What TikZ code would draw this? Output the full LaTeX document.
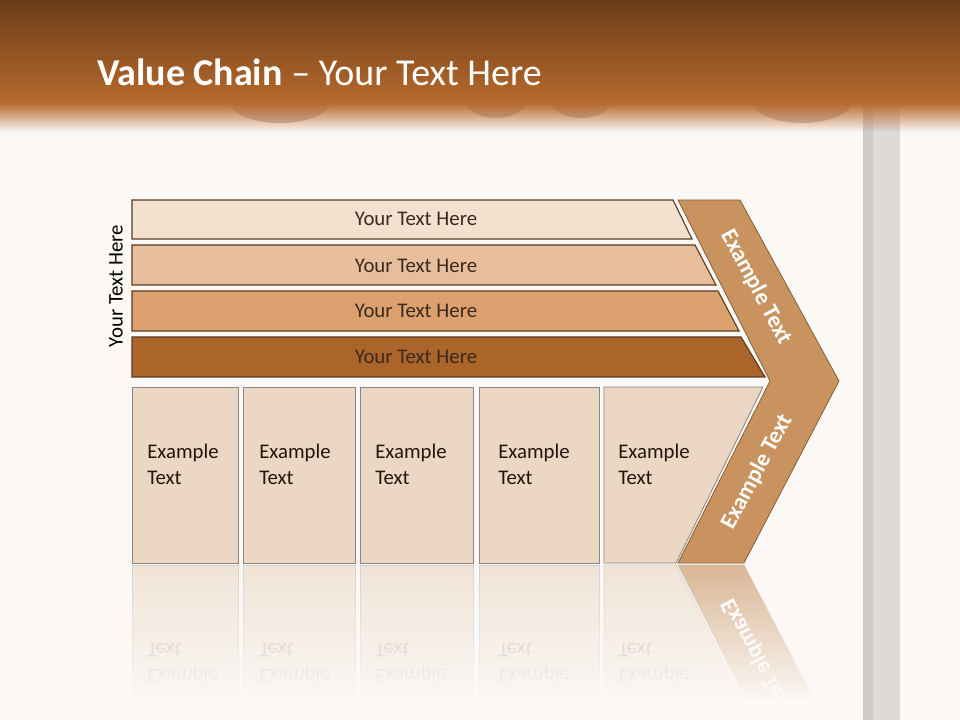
\documentclass[tikz,border=0pt]{standalone}
\usepackage{fontspec}
\setmainfont{Carlito}
\usetikzlibrary{fadings}
\definecolor{pagebg}{HTML}{FBF8F5}
\definecolor{headtop}{HTML}{6B3D17}
\definecolor{headbot}{HTML}{B86A2D}
\definecolor{bumpgray}{HTML}{C9BEB6}
\definecolor{pillarlight}{HTML}{DEDAD7}
\definecolor{pillardark}{HTML}{CFCBC9}
\definecolor{bandone}{HTML}{F3E1D0}
\definecolor{bandtwo}{HTML}{E8BD9C}
\definecolor{bandthree}{HTML}{DDA06F}
\definecolor{bandfour}{HTML}{AB6429}
\definecolor{bandline}{HTML}{5C3A1E}
\definecolor{bandink}{HTML}{3A2A1E}
\definecolor{chevfill}{HTML}{C8935F}
\definecolor{chevline}{HTML}{8C6239}
\definecolor{cellfill}{HTML}{EBD7C3}
\definecolor{cellline}{HTML}{8F8680}
\definecolor{cellink}{HTML}{22170F}
\tikzfading[name=fadein, top color=transparent!0, bottom color=transparent!100]
\tikzfading[name=fadeout, top color=transparent!100, bottom color=transparent!0]

\begin{document}
\begin{tikzpicture}[x = 0.025cm, y = -0.025cm,
	band/.style = {draw = bandline, line width = 0.8pt},
	cell/.style = {draw = cellline, fill = cellfill, line width = 0.6pt},
	mirrorcell/.style = {draw = cellline!35!pagebg, fill = cellfill!60!pagebg, line width = 0.6pt},
	bandtext/.style = {text = bandink, font = \fontsize{14.8}{18}\selectfont},
	celltext/.style = {anchor = north west, align = left, inner sep = 0pt, font = \fontsize{14.8}{18.5}\selectfont},
	chevtext/.style = {text = white, font = \bfseries\fontsize{16.5}{19}\selectfont}]
	\useasboundingbox (0,0) rectangle (960,720);
	\fill [pagebg] (0,0) rectangle (960,720);
	\fill [bumpgray] (280,101) ellipse (51 and 22);
	\fill [bumpgray] (496,100) ellipse (31 and 18);
	\fill [bumpgray] (581,100) ellipse (31 and 18);
	\fill [bumpgray] (802,101) ellipse (50 and 22);
	\fill [pillarlight] (863,106) rectangle (900,720);
	\fill [pillardark] (863,106) rectangle (873,720);
	\shade [top color = headtop, bottom color = headbot] (0,0) rectangle (960,104);
	\fill [headbot, path fading = fadein] (0,103) rectangle (960,132);
	\node (title) [anchor = base west, inner sep = 0pt, text = white, font = \fontsize{27}{31}\selectfont] at (97,86) {\textbf{Value Chain} -- Your Text Here};

	\begin{scope}[shift = {(0,1128)}, yscale = -1, transform shape]
		\draw [mirrorcell] (132,387) rectangle (238,563);
		\draw [mirrorcell] (243,387) rectangle (355,563);
		\draw [mirrorcell] (360,387) rectangle (473,563);
		\draw [mirrorcell] (479,387) rectangle (599,563);
		\draw [mirrorcell] (604,387) -- (763,387) -- (676,563) -- (604,563) -- cycle;
		\draw [draw = chevline!40!pagebg, fill = chevfill!65!pagebg] (678,563) -- (744,563) -- (839,381) -- (770,381) -- cycle;
		\node (r1) [celltext, text = cellink!30!pagebg] at (147,444) {Example\\Text};
		\node (r2) [celltext, text = cellink!30!pagebg] at (259,444) {Example\\Text};
		\node (r3) [celltext, text = cellink!30!pagebg] at (375,444) {Example\\Text};
		\node (r4) [celltext, text = cellink!30!pagebg] at (498,444) {Example\\Text};
		\node (r5) [celltext, text = cellink!30!pagebg] at (618,444) {Example\\Text};
		\node (rb) [chevtext, rotate = 62] at (757,472) {Example Text};
	\end{scope}
	\fill [pagebg, path fading = fadeout] (120,564) rectangle (852,700);
	\fill [pagebg] (120,699) rectangle (852,720);

	\draw [band, fill = bandone] (132,200) -- (673,200) -- (692,239) -- (132,239) -- cycle;
	\draw [band, fill = bandtwo] (132,245) -- (695,245) -- (716,285) -- (132,285) -- cycle;
	\draw [band, fill = bandthree] (132,291) -- (718,291) -- (739,331) -- (132,331) -- cycle;
	\draw [band, fill = bandfour] (132,337) -- (741,337) -- (765,377) -- (132,377) -- cycle;
	\node (b1) [bandtext] at (416,219) {Your Text Here};
	\node (b2) [bandtext] at (416,266) {Your Text Here};
	\node (b3) [bandtext] at (416,311) {Your Text Here};
	\node (b4) [bandtext] at (416,357) {Your Text Here};
	\node (side) [text = black, rotate = 90, font = \fontsize{14.8}{18}\selectfont] at (116,286) {Your Text Here};

	\draw [draw = chevline, fill = chevfill, line width = 0.6pt] (678,200) -- (740,200) -- (839,381) -- (744,563) -- (678,563) -- (770,381) -- cycle;
	\node (ct) [chevtext, rotate = -62] at (756,287) {Example Text};
	\node (cb) [chevtext, rotate = 62] at (757,472) {Example Text};

	\draw [cell] (132,387) rectangle (238,563);
	\draw [cell] (243,387) rectangle (355,563);
	\draw [cell] (360,387) rectangle (473,563);
	\draw [cell] (479,387) rectangle (599,563);
	\draw [cell] (604,387) -- (763,387) -- (676,563) -- (604,563) -- cycle;
	\node (c1) [celltext, text = cellink] at (147,444) {Example\\Text};
	\node (c2) [celltext, text = cellink] at (259,444) {Example\\Text};
	\node (c3) [celltext, text = cellink] at (375,444) {Example\\Text};
	\node (c4) [celltext, text = cellink] at (498,444) {Example\\Text};
	\node (c5) [celltext, text = cellink] at (618,444) {Example\\Text};
\end{tikzpicture}
\end{document}
